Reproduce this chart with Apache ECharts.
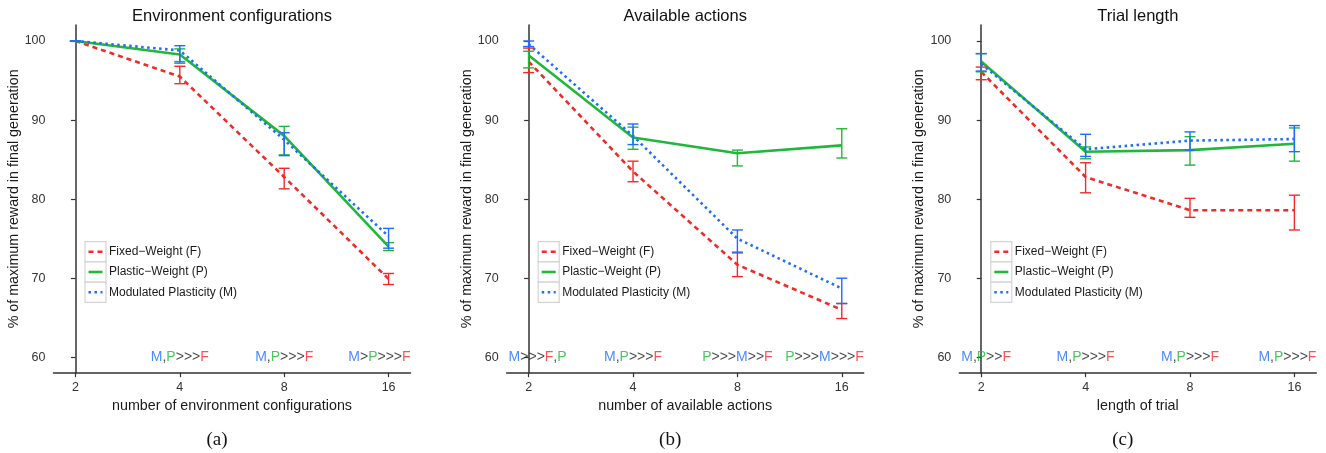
<!DOCTYPE html>
<html>
<head>
<meta charset="utf-8">
<script src="https://cdn.jsdelivr.net/npm/echarts@6/dist/echarts.min.js"></script>
<style>
  html, body { margin: 0; padding: 0; background: #fff; }
  #chart { width: 1326px; height: 453px; }
</style>
</head>
<body>
<div id="chart"></div>
<script>
// x positions 2,4,8,16 drawn evenly spaced
const xLabels = ['2', '4', '8', '16']
const yTicks = [60, 70, 80, 90, 100]

// (a) environment configurations
const envF = [100, 95.5, 82.8, 69.9]
const envFLo = [100, 94.6, 81.3, 69.2]
const envFHi = [100, 96.8, 83.9, 70.6]
const envP = [100, 98.3, 88.0, 74.0]
const envPLo = [100, 97.4, 85.6, 73.5]
const envPHi = [100, 99.0, 89.2, 74.5]
const envM = [100, 98.8, 87.5, 75.3]
const envMLo = [100, 97.2, 85.5, 73.8]
const envMHi = [100, 99.4, 88.4, 76.3]
const envNote = ['', 'M,P>>>F', 'M,P>>>F', 'M>P>>>F']

// (b) available actions
const actF = [97.4, 83.5, 71.7, 66.0]
const actFLo = [96.0, 82.2, 70.2, 64.9]
const actFHi = [99.1, 84.8, 73.3, 66.8]
const actP = [98.2, 87.8, 85.8, 86.8]
const actPLo = [96.6, 86.3, 84.2, 85.2]
const actPHi = [98.7, 89.1, 86.2, 88.9]
const actM = [99.6, 88.0, 75.0, 68.7]
const actMLo = [99.3, 86.9, 73.2, 66.8]
const actMHi = [100.0, 89.5, 76.1, 70.0]
const actNote = ['M>>>F,P', 'M,P>>>F', 'P>>>M>>F', 'P>>>M>>>F']

// (c) trial length
const lenF = [96.1, 82.8, 78.6, 78.6]
const lenFLo = [95.1, 80.8, 77.7, 76.1]
const lenFHi = [96.7, 84.6, 80.1, 80.5]
const lenP = [97.4, 86.0, 86.2, 87.0]
const lenPLo = [96.1, 85.1, 84.3, 84.8]
const lenPHi = [98.4, 86.6, 87.9, 89.0]
const lenM = [97.1, 86.3, 87.4, 87.6]
const lenMLo = [96.2, 85.4, 86.2, 86.0]
const lenMHi = [98.4, 88.2, 88.5, 89.3]
const lenNote = ['M,P>>F', 'M,P>>>F', 'M,P>>>F', 'M,P>>>F']

const seriesNames = ['Fixed\u2212Weight (F)', 'Plastic\u2212Weight (P)', 'Modulated Plasticity (M)']
const colF = '#f22a2a'
const colP = '#1fb83a'
const colM = '#1f6cff'
const font = 'Liberation Sans, Arial, sans-serif'

const panels = [
  { title: 'Environment configurations', xName: 'number of environment configurations', caption: '(a)',
    F: [envF, envFLo, envFHi], P: [envP, envPLo, envPHi], M: [envM, envMLo, envMHi], note: envNote, left: 53.5 },
  { title: 'Available actions', xName: 'number of available actions', caption: '(b)',
    F: [actF, actFLo, actFHi], P: [actP, actPLo, actPHi], M: [actM, actMLo, actMHi], note: actNote, left: 506.7 },
  { title: 'Trial length', xName: 'length of trial', caption: '(c)',
    F: [lenF, lenFLo, lenFHi], P: [lenP, lenPLo, lenPHi], M: [lenM, lenMLo, lenMHi], note: lenNote, left: 959.3 }
]
const plotW = 357
const plotTop = 25
const plotH = 347.7

function errorBars(color) {
  return function (params, api) {
    const x = api.value(0)
    const top = api.coord([x, api.value(2)])
    const bot = api.coord([x, api.value(1)])
    const hw = 5.5
    const style = { stroke: color, lineWidth: 1.4 }
    return {
      type: 'group',
      children: [
        { type: 'line', shape: { x1: top[0], y1: top[1], x2: bot[0], y2: bot[1] }, style },
        { type: 'line', shape: { x1: top[0] - hw, y1: top[1], x2: top[0] + hw, y2: top[1] }, style },
        { type: 'line', shape: { x1: bot[0] - hw, y1: bot[1], x2: bot[0] + hw, y2: bot[1] }, style }
      ]
    }
  }
}

// colour each letter of an annotation like 'M,P>>>F'
function richNote(s) {
  let out = ''
  for (const ch of s) {
    if (ch === 'M') out += '{m|M}'
    else if (ch === 'P') out += '{p|P}'
    else if (ch === 'F') out += '{f|F}'
    else out += '{k|' + ch + '}'
  }
  return out
}

const grid = [], xAxis = [], yAxis = [], series = [], graphic = []
panels.forEach((p, k) => {
  grid.push({ left: p.left, top: plotTop, width: plotW, height: plotH })
  xAxis.push({
    gridIndex: k, type: 'value', min: -0.21, max: 3.21,
    name: p.xName, nameLocation: 'middle', nameGap: 19,
    nameTextStyle: { fontFamily: font, fontSize: 14.3, color: '#1a1a1a' },
    axisLine: { onZero: false, lineStyle: { color: '#333', width: 1.5 } },
    axisTick: { customValues: [0, 1, 2, 3], length: 4.5, lineStyle: { color: '#333', width: 1.2 } },
    axisLabel: { customValues: [0, 1, 2, 3], formatter: v => xLabels[Math.round(v)],
      margin: 8, fontFamily: font, fontSize: 12.5, color: '#333' },
    splitLine: { show: false }
  })
  yAxis.push({
    gridIndex: k, type: 'value', min: 58.05, max: 102.02,
    name: '% of maximum reward in final generation', nameLocation: 'middle', nameGap: 26,
    nameTextStyle: { fontFamily: font, fontSize: 14.3, color: '#1a1a1a' },
    axisLine: { show: true, lineStyle: { color: '#333', width: 1.5 } },
    axisTick: { show: true, customValues: yTicks, length: 4.5, lineStyle: { color: '#333', width: 1.2 } },
    axisLabel: { customValues: yTicks, margin: 8, fontFamily: font, fontSize: 12.5, color: '#333' },
    splitLine: { show: false }
  })
  const defs = [
    [p.F, colF, [5, 4]],
    [p.P, colP, 'solid'],
    [p.M, colM, [2.5, 3.5]]
  ]
  defs.forEach(([d, color, type], j) => {
    series.push({
      type: 'line', name: seriesNames[j], xAxisIndex: k, yAxisIndex: k,
      data: d[0].map((v, i) => [i, v]), symbol: 'none', silent: true,
      lineStyle: { color, width: 2.6, type }, z: 2
    })
  })
  defs.forEach(([d, color], j) => {
    series.push({
      type: 'custom', xAxisIndex: k, yAxisIndex: k, renderItem: errorBars(color),
      data: d[1].map((lo, i) => [i, lo, d[2][i]]), encode: { x: 0, y: [1, 2] }, z: 3, silent: true
    })
  })
  series.push({
    type: 'scatter', xAxisIndex: k, yAxisIndex: k, symbolSize: 0, silent: true,
    data: p.note.map((s, i) => {
      const item = { value: [i, 60], name: s }
      if (i === 0) item.label = { align: 'left', offset: [-20, 0] }
      if (i === 3) item.label = { align: 'right', offset: [22, 0] }
      return item
    }),
    label: {
      show: true, position: 'inside', align: 'center', verticalAlign: 'middle',
      formatter: prm => richNote(prm.name),
      rich: {
        m: { color: colM, fontSize: 14, fontFamily: font },
        p: { color: colP, fontSize: 14, fontFamily: font },
        f: { color: colF, fontSize: 14, fontFamily: font },
        k: { color: '#1a1a1a', fontSize: 14, fontFamily: font }
      }
    }
  })

  const cx = p.left + plotW / 2
  graphic.push({ type: 'text', x: cx, y: 16,
    style: { text: p.title, font: '16.5px ' + font, fill: '#111', align: 'center', verticalAlign: 'middle' } })
  graphic.push({ type: 'text', x: cx - 15, y: 440,
    style: { text: p.caption, font: '19px Liberation Serif, DejaVu Serif, serif', fill: '#111', align: 'center', verticalAlign: 'middle' } })

  // legend keys, ggplot style
  const kids = []
  const rowH = 20.2
  const dashes = [[5, 4], null, [2.5, 3.5]]
  const cols = [colF, colP, colM]
  for (let i = 0; i < 3; i++) {
    const y = i * rowH
    kids.push({ type: 'rect', shape: { x: 0, y, width: 21, height: rowH },
      style: { fill: '#fff', stroke: '#d4d4d4', lineWidth: 1.2 } })
    kids.push({ type: 'line', shape: { x1: 3.5, y1: y + rowH / 2, x2: 17.5, y2: y + rowH / 2 },
      style: { stroke: cols[i], lineWidth: 2.6, lineDash: dashes[i] } })
    kids.push({ type: 'text', x: 24, y: y + rowH / 2,
      style: { text: seriesNames[i], font: '12px ' + font, fill: '#1a1a1a', verticalAlign: 'middle' } })
  }
  graphic.push({ type: 'group', x: p.left + 31.5, y: 241.7, children: kids })
})

const myChart = echarts.init(document.getElementById('chart'))
myChart.setOption({
  animation: false,
  grid, xAxis, yAxis, series, graphic
})
</script>
</body>
</html>
